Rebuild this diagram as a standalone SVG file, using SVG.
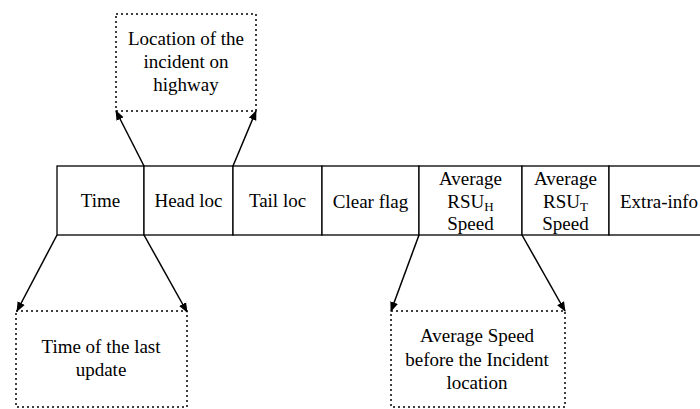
<svg xmlns="http://www.w3.org/2000/svg" width="700" height="409" viewBox="0 0 700 409">
<style>
  text { font-family: "Liberation Serif", "Times New Roman", serif; font-size: 19px; fill: #000; text-anchor: middle; }
  .cell { fill: #fff; stroke: #000; stroke-width: 1.3; }
  .note { fill: #fff; stroke: #000; stroke-width: 1.5; stroke-dasharray: 2 3; }
  .conn { stroke: #000; stroke-width: 1.5; fill: none; marker-end: url(#ah); }
  .sub { font-size: 13px; }
</style>
<defs>
  <marker id="ah" viewBox="0 0 10 10" refX="9" refY="5" markerWidth="10" markerHeight="10" markerUnits="userSpaceOnUse" orient="auto">
    <path d="M0,1 L10,5 L0,9 Z" fill="#000"/>
  </marker>
</defs>
<rect width="700" height="409" fill="#fff"/>

<g id="field-time">
  <rect class="cell" x="57" y="166" width="87" height="69"/>
  <text x="100.5" y="207">Time</text>
</g>
<g id="field-head-loc">
  <rect class="cell" x="144" y="166" width="89" height="69"/>
  <text x="188.5" y="207">Head loc</text>
</g>
<g id="field-tail-loc">
  <rect class="cell" x="233" y="166" width="89" height="69"/>
  <text x="277.5" y="207">Tail loc</text>
</g>
<g id="field-clear-flag">
  <rect class="cell" x="322" y="166" width="97" height="69"/>
  <text x="370.5" y="208">Clear flag</text>
</g>
<g id="field-rsuh-speed">
  <rect class="cell" x="419" y="166" width="103" height="69"/>
  <text x="470.5" y="185">Average</text>
  <text x="470.5" y="208">RSU<tspan class="sub" dy="3">H</tspan></text>
  <text x="470.5" y="230">Speed</text>
</g>
<g id="field-rsut-speed">
  <rect class="cell" x="522" y="166" width="87" height="69"/>
  <text x="565.5" y="185">Average</text>
  <text x="565.5" y="208">RSU<tspan class="sub" dy="3">T</tspan></text>
  <text x="565.5" y="230">Speed</text>
</g>
<g id="field-extra-info">
  <rect class="cell" x="609" y="166" width="100" height="69"/>
  <text x="620" y="208" style="text-anchor:start">Extra-info</text>
</g>

<g id="note-location">
  <rect class="note" x="116" y="14" width="140" height="97"/>
  <text x="186" y="45">Location of the</text>
  <text x="186" y="68">incident on</text>
  <text x="186" y="91">highway</text>
</g>
<g id="note-time">
  <rect class="note" x="16" y="311" width="171" height="96"/>
  <text x="101" y="353">Time of the last</text>
  <text x="101" y="376">update</text>
</g>
<g id="note-speed">
  <rect class="note" x="391" y="311" width="174" height="96"/>
  <text x="477" y="342">Average Speed</text>
  <text x="477" y="366">before the Incident</text>
  <text x="477" y="389">location</text>
</g>

<g id="connectors">
  <line class="conn" x1="144" y1="166" x2="116" y2="111"/>
  <line class="conn" x1="233" y1="166" x2="256" y2="111"/>
  <line class="conn" x1="57" y1="235" x2="17" y2="311"/>
  <line class="conn" x1="144" y1="235" x2="187" y2="312"/>
  <line class="conn" x1="419" y1="235" x2="391" y2="311"/>
  <line class="conn" x1="522" y1="235" x2="565" y2="311"/>
</g>
</svg>
